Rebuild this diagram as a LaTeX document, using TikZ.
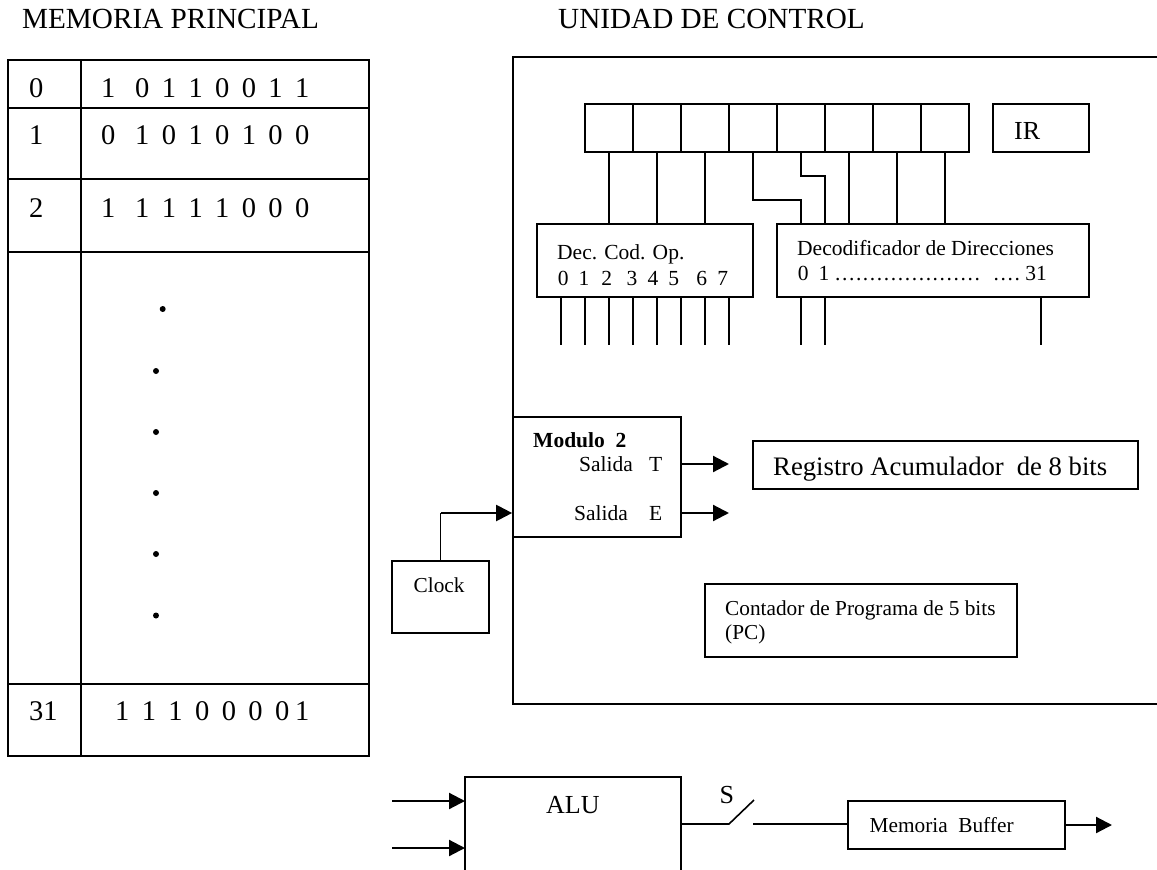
\documentclass[tikz,border=0pt]{standalone}
\usepackage{fontspec}
\setmainfont{Liberation Serif}
\usetikzlibrary{arrows.meta}
\newcommand{\fsz}[1]{\fontsize{#1}{#1}\selectfont}
\tikzset{x=1pt,y=-1pt,
  wire/.style={draw=black,line width=1.6pt},
  box/.style={draw=black,line width=1.7pt,rectangle,inner sep=0pt},
  tx/.style={inner sep=0pt,anchor=base west,text=black},
  arr/.style={draw=black,line width=2.2pt,-{Triangle[length=16pt,width=16pt]}},
  dotm/.style={circle,fill=black,inner sep=0pt,minimum size=6pt}}
\newcommand{\bx}[5]{\node[box,minimum width=#4pt-#2pt,minimum height=#5pt-#3pt] (#1) at ({(#2+#4)/2},{(#3+#5)/2}) {};}
\newcommand{\bits}[1]{\fsz{28.5}\spaceskip=12.4pt\relax #1}
\newcommand{\dd}{.\kern1.6pt}
\begin{document}
\begin{tikzpicture}
\useasboundingbox (0,0) rectangle (1157,870);
\fill[white] (0,0) rectangle (1157,870);
% titles
\node[tx] (t1) at (22,28) {\fsz{29.2}MEMORIA PRINCIPAL};
\node[tx] (t2) at (558,28) {\fsz{29.2}UNIDAD DE CONTROL};
% memory table
\draw[box] (8,60) rectangle (369,756);
\draw[box] (81,60) -- (81,756);
\foreach \yy in {108,179,252,684} \draw[box] (8,\yy) -- (369,\yy);
\node[tx] (r0) at (29,97) {\fsz{28.5}0};
\node[tx] (r1) at (29,144) {\fsz{28.5}1};
\node[tx] (r2) at (29,217) {\fsz{28.5}2};
\node[tx] (r31) at (29,720) {\fsz{28.5}31};
\node[tx] (b0) at (101,97) {\bits{1\hspace{19.8pt}0 1 1 0 0 1 1}};
\node[tx] (b1) at (101,144) {\bits{0\hspace{19.8pt}1 0 1 0 1 0 0}};
\node[tx] (b2) at (101,217) {\bits{1\hspace{19.8pt}1 1 1 1 0 0 0}};
\node[tx] (b31) at (115,720) {\bits{1 1 1 0 0 0 0\hspace{5.8pt}1}};
\foreach \xx/\yy in {162.7/309,156/371,156/432,156/493,156/554,156/615.5} \node[dotm] at (\xx,\yy) {};
% control frame
\draw[box] (1157,57) -- (513,57) -- (513,704) -- (1157,704);
% IR
\bx{c1}{585}{104}{633}{152}
\bx{c2}{633}{104}{681}{152}
\bx{c3}{681}{104}{729}{152}
\bx{c4}{729}{104}{777}{152}
\bx{c5}{777}{104}{825}{152}
\bx{c6}{825}{104}{873}{152}
\bx{c7}{873}{104}{921}{152}
\bx{c8}{921}{104}{969}{152}
\bx{ir}{993}{104}{1089}{152}
\node[tx] (irt) at (1014,139) {\fsz{26}IR};
\bx{dec}{537}{224}{753}{297}
\bx{dir}{777}{224}{1089}{297}
\node[tx] (d1) at (557,259) {\fsz{21.5}Dec. Cod. Op.};
\node[tx] (d2) at (557.6,285) {\fsz{21.5}\spaceskip=10.2pt\relax 0 1\hspace{12pt}2\hspace{14.3pt}3 4 5\hspace{17.2pt}6 7};
\node[tx] (d3) at (797,255) {\fsz{21.5}Decodificador de Direcciones};
\node[tx] (d4) at (797.6,280) {\fsz{21.5}0\hspace{10.2pt}1\hspace{5.6pt}\dd\dd\dd\dd\dd\dd\dd\dd\dd\dd\dd\dd\dd\dd\dd\dd\dd\dd\dd\dd\dd\hspace{12pt}\dd\dd\dd\dd\hspace{4pt}31};
% wires
\draw[wire] (c1.south) -- (c1.south |- dec.north);
\draw[wire] (c2.south) -- (c2.south |- dec.north);
\draw[wire] (c3.south) -- (c3.south |- dec.north);
\draw[wire] (c4.south) -- (753,200) -- (801,200) -- (801,224);
\draw[wire] (c5.south) -- (801,176) -- (825,176) -- (825,224);
\draw[wire] (c6.south) -- (c6.south |- dir.north);
\draw[wire] (c7.south) -- (c7.south |- dir.north);
\draw[wire] (c8.south) -- (c8.south |- dir.north);
\foreach \xx in {561,585,609,633,657,681,705,729,801,825,1041} \draw[wire] (\xx,297) -- (\xx,345);
% modulo
\bx{mod}{513}{417}{681}{537}
\node[tx] (m1) at (533,447) {\fsz{21.5}\bfseries Modulo\hspace{10.8pt}2};
\node[tx] (m2) at (579,471) {\fsz{21.5}Salida};
\node[tx] (m2b) at (649,471) {\fsz{21.5}T};
\node[tx] (m3) at (574,520) {\fsz{21.5}Salida};
\node[tx] (m3b) at (649,520) {\fsz{21.5}E};
\coordinate (o1) at (729,464);
\coordinate (o2) at (729,513);
\draw[arr] (mod.east |- o1) -- (o1);
\draw[arr] (mod.east |- o2) -- (o2);
\bx{acc}{753}{441}{1138}{489}
\node[tx] (at) at (773,475) {\fsz{26.7}Registro Acumulador\hspace{13pt}de 8 bits};
\bx{clk}{392}{561}{489}{633}
\node[tx] (ct) at (413.5,592) {\fsz{21.3}Clock};
\coordinate (ck) at (440.5,513);
\draw[wire] (clk.north) -- (ck);
\draw[arr] (ck) -- (mod.west |- o2);
\bx{pc}{705}{584}{1017}{657}
\node[tx] (p1) at (725,615) {\fsz{21.3}Contador de Programa de 5 bits};
\node[tx] (p2) at (725,639) {\fsz{21.3}(PC)};
% ALU
\draw[box] (465,870) -- (465,777) -- (681,777) -- (681,870);
\coordinate (aw) at (465,801);
\coordinate (aw2) at (465,848);
\coordinate (as1) at (392,801);
\coordinate (as2) at (392,848);
\draw[arr] (as1) -- (aw);
\draw[arr] (as2) -- (aw2);
\node[tx] (alu) at (546,813) {\fsz{26}ALU};
\node[tx] (s) at (719.5,803) {\fsz{26}S};
\bx{buf}{848}{801}{1065}{849}
\node[tx] (bt) at (869.5,832) {\fsz{21.3}Memoria\hspace{10.6pt}Buffer};
\coordinate (sw0) at (681,824);
\coordinate (sw1) at (729,824);
\coordinate (sw2) at (754,800);
\coordinate (sw3) at (753,824);
\draw[wire] (sw0) -- (sw1) -- (sw2);
\draw[wire] (sw3) -- (buf.west |- sw3);
\coordinate (be) at (1112,825);
\draw[arr] (buf.east |- be) -- (be);
\end{tikzpicture}
\end{document}
